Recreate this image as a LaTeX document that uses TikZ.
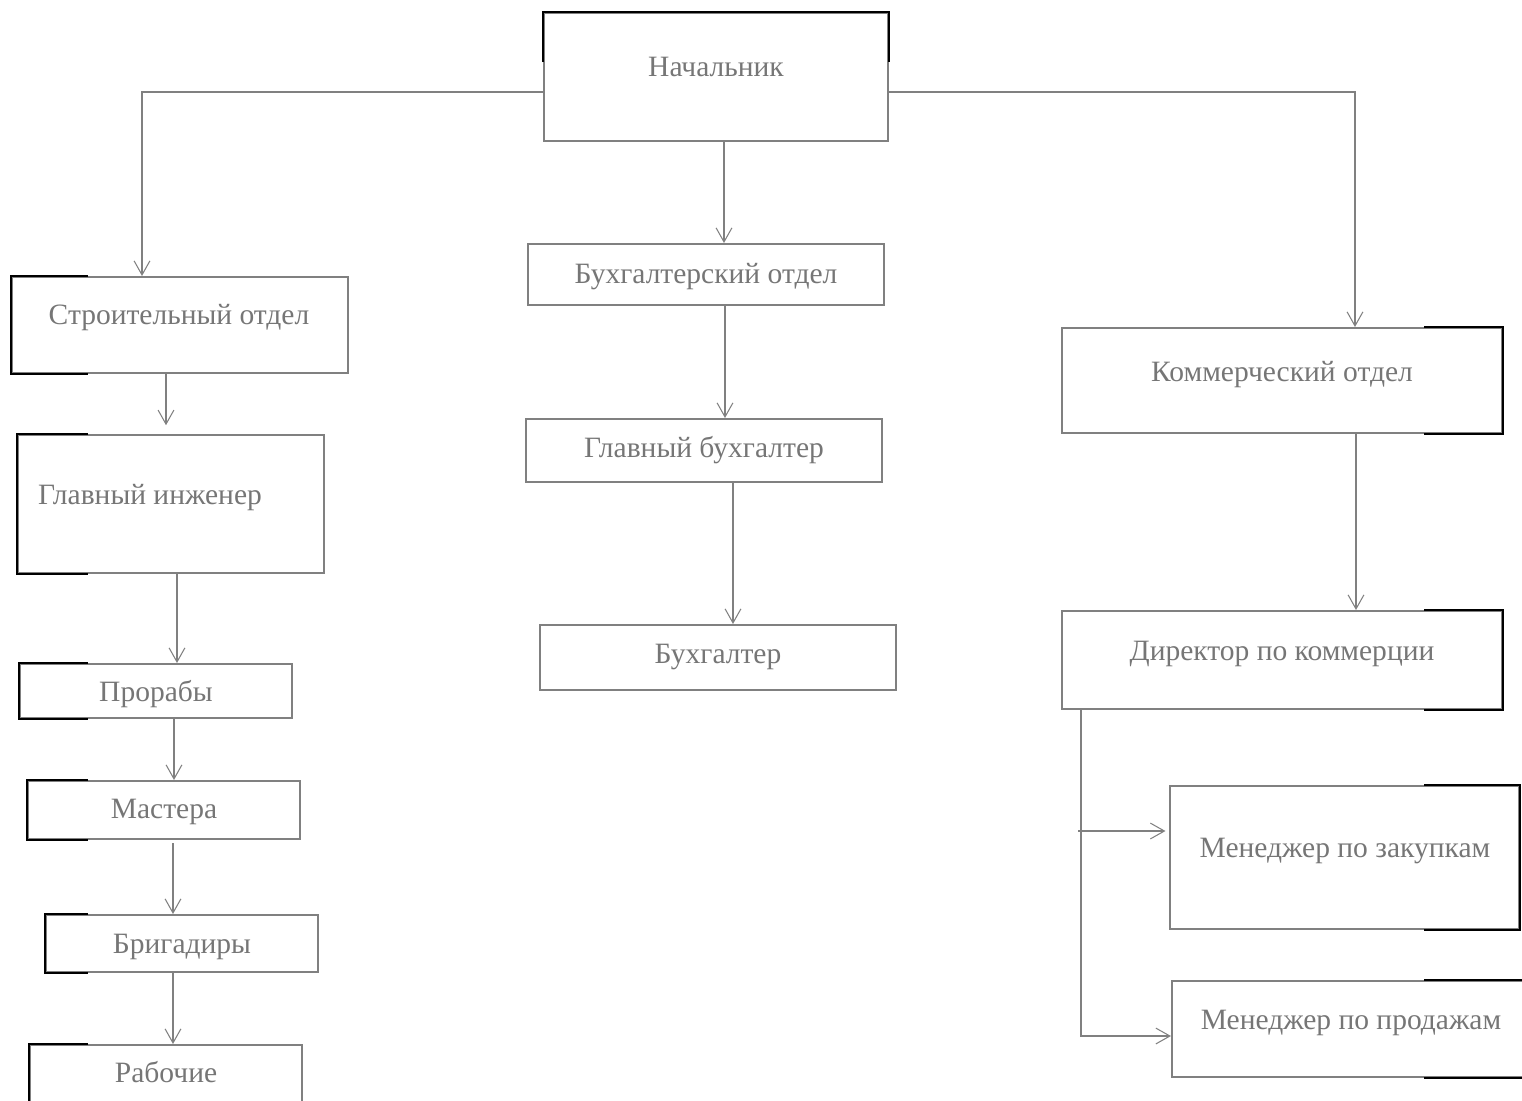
\documentclass[tikz,border=0pt]{standalone}
\usepackage{fontspec}
\setmainfont{Liberation Serif}
\usetikzlibrary{arrows.meta}
\definecolor{framegray}{RGB}{128,128,128}
\definecolor{textgray}{RGB}{118,118,118}
\tikzset{
  box/.style={draw=framegray, line width=1.15pt, inner sep=0pt},
  boxsize/.style 2 args={minimum width=#1*0.02cm, minimum height=#2*0.02cm},
  lbl/.style={text=textgray, font=\fontsize{16.8}{20}\selectfont, inner sep=0pt,
    text height=10pt, text depth=4pt, yshift=-2.2pt},
  link/.style={draw=framegray, line width=0.6pt, -{Straight Barb[length=8pt, width=9pt]}},
  rim/.style={draw=black, line width=1.2pt}
}
\begin{document}
\begin{tikzpicture}[x=0.02cm, y=-0.02cm]
        \useasboundingbox (0,0) rectangle (1522,1100);

        % --- Cadres ---
        \node[box, boxsize={344}{128}] (chief)   at (716,77)      {};
        \node[box, boxsize={336}{96}]  (build)   at (180,325)     {};
        \node[box, boxsize={356}{61}]  (acct)    at (706,274.5)   {};
        \node[box, boxsize={440}{105}] (comm)    at (1282,380.5)  {};
        \node[box, boxsize={306}{138}] (eng)     at (171,504)     {};
        \node[box, boxsize={356}{63}]  (chacc)   at (704,450.5)   {};
        \node[box, boxsize={272}{54}]  (foreman) at (156,691)     {};
        \node[box, boxsize={356}{65}]  (accnt)   at (718,657.5)   {};
        \node[box, boxsize={440}{98}]  (commdir) at (1282,660)    {};
        \node[box, boxsize={272}{58}]  (master)  at (164,810)     {};
        \node[box, boxsize={349}{143}] (buy)     at (1344.5,857.5) {};
        \node[box, boxsize={272}{57}]  (brig)    at (182,943.5)   {};
        \node[box, boxsize={358}{96}]  (sell)    at (1351,1029)   {};
        \node[box, boxsize={272}{70}]  (work)    at (166,1080)    {};

        % Bords noirs
        \draw[rim] (chief.west |- 0,62) |- (chief.north east) -- (chief.east |- 0,62);
        \foreach \n in {build,eng,foreman,master,brig,work}
            \draw[rim] (88,0 |- \n.north) -| (\n.south west) -- (88,0 |- \n.south);
        \foreach \n in {comm,commdir,buy,sell}
            \draw[rim] (1424,0 |- \n.north) -| (\n.south east) -- (1424,0 |- \n.south);

        % --- Textes ---
        \node[lbl] (chieft)   at (716,67)   {Начальник};
        \node[lbl] (buildt)   at (179,315)  {Строительный отдел};
        \node[lbl] (acctt)    at (706,274)  {Бухгалтерский отдел};
        \node[lbl] (commt)    at (1282,372) {Коммерческий отдел};
        \node[lbl] (engt)     at (150,495)  {Главный инженер};
        \node[lbl] (chacct)   at (704,448)  {Главный бухгалтер};
        \node[lbl] (foremant) at (156,692)  {Прорабы};
        \node[lbl] (accntt)   at (718,654)  {Бухгалтер};
        \node[lbl] (commdirt) at (1282,651) {Директор по коммерции};
        \node[lbl] (mastert)  at (164,809)  {Мастера};
        \node[lbl] (buyt)     at (1345,848) {Менеджер по закупкам};
        \node[lbl] (brigt)    at (182,944)  {Бригадиры};
        \node[lbl] (sellt)    at (1351,1020) {Менеджер по продажам};
        \node[lbl] (workt)    at (166,1073) {Рабочие};

        % --- Liaisons ---
        \draw[link] (chief.west |- 0,92) -| (142,0 |- build.north);
        \draw[link] (chief.east |- 0,92) -| (1355,0 |- comm.north);
        \draw[link] (724,0 |- chief.south) -- (724,0 |- acct.north);
        \draw[link] (725,0 |- acct.south) -- (725,0 |- chacc.north);
        \draw[link] (733,0 |- chacc.south) -- (733,0 |- accnt.north);
        \draw[link, shorten >=5pt] (166,0 |- build.south) -- (166,0 |- eng.north);
        \draw[link] (177,0 |- eng.south) -- (177,0 |- foreman.north);
        \draw[link] (174,0 |- foreman.south) -- (174,0 |- master.north);
        \draw[link] (173,843) -- (173,0 |- brig.north);
        \draw[link] (173,0 |- brig.south) -- (173,0 |- work.north);
        \draw[link] (1356,0 |- comm.south) -- (1356,0 |- commdir.north);
        \draw[link] (1081,0 |- commdir.south) |- (sell.west |- 0,1036);
        \coordinate (tap) at (1078,831);
        \draw[link, shorten >=2pt] (tap) -- (buy.west |- tap);
\end{tikzpicture}
\end{document}
